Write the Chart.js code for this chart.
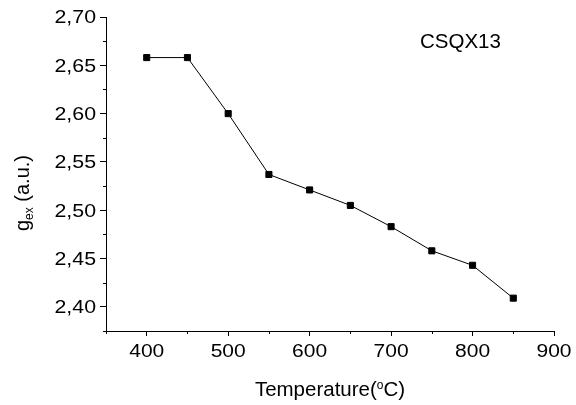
<!DOCTYPE html>
<html>
<head>
<meta charset="utf-8">
<script src="https://cdn.jsdelivr.net/npm/chart.js@4/dist/chart.umd.min.js"></script>
<style>
  html, body { margin: 0; padding: 0; background: #fff; }
  #wrap { width: 576px; height: 405px; }
</style>
</head>
<body>
<div id="wrap"><canvas id="c"></canvas></div>
<script>
const temperatures = [400, 450, 500, 550, 600, 650, 700, 750, 800, 850];
const gexValues = [2.658, 2.658, 2.600, 2.537, 2.521, 2.505, 2.483, 2.458, 2.443, 2.409];
const xTicks = [400, 500, 600, 700, 800, 900];
const yTicks = [2.40, 2.45, 2.50, 2.55, 2.60, 2.65, 2.70];
const xMinorTicks = [350, 450, 550, 650, 750, 850];
const yMinorTicks = [2.375, 2.425, 2.475, 2.525, 2.575, 2.625, 2.675];
const seriesLabel = "CSQX13";

const FONT = "'Liberation Sans', Arial, sans-serif";
const fmtY = (v) => v.toFixed(2).replace(".", ",");

// draws a run of [text, font, dy] pieces starting at x
function drawRun(ctx, parts, x, y) {
  parts.forEach(([t, f, dy]) => {
    ctx.font = f;
    ctx.fillText(t, x, y + dy);
    x += ctx.measureText(t).width;
  });
}
function runWidth(ctx, parts) {
  let w = 0;
  parts.forEach(([t, f]) => { ctx.font = f; w += ctx.measureText(t).width; });
  return w;
}

// minor ticks, tick labels, axis titles with sub/superscript, sample label
const decorations = {
  id: "decorations",
  afterDraw(chart) {
    const { ctx, chartArea, scales } = chart;
    ctx.save();
    ctx.strokeStyle = "#000";
    ctx.lineWidth = 1;
    ctx.beginPath();
    xMinorTicks.forEach((v) => {
      const px = Math.round(scales.x.getPixelForValue(v)) + 0.5;
      ctx.moveTo(px, chartArea.bottom);
      ctx.lineTo(px, chartArea.bottom + 3);
    });
    yMinorTicks.forEach((v) => {
      const py = Math.round(scales.y.getPixelForValue(v)) + 0.5;
      ctx.moveTo(chartArea.left, py);
      ctx.lineTo(chartArea.left - 3, py);
    });
    ctx.stroke();

    ctx.fillStyle = "#000";
    ctx.textBaseline = "alphabetic";
    const tickFont = "17.5px " + FONT;

    // tick labels (the original's digits are wide, so stretch a bit)
    ctx.font = tickFont;
    ctx.textAlign = "center";
    xTicks.forEach((v) => {
      ctx.save();
      ctx.translate(scales.x.getPixelForValue(v), chartArea.bottom + 25.5);
      ctx.scale(1.2, 1);
      ctx.fillText(String(v), 0, 0);
      ctx.restore();
    });
    ctx.textAlign = "right";
    yTicks.forEach((v) => {
      ctx.save();
      ctx.translate(chartArea.left - 10, scales.y.getPixelForValue(v) + 6.3);
      ctx.scale(1.22, 1);
      ctx.fillText(fmtY(v), 0, 0);
      ctx.restore();
    });
    ctx.textAlign = "left";

    // x title: Temperature(°C)
    const big = "20.5px " + FONT;
    const sup = "12px " + FONT;
    const xparts = [["Temperature(", big, 0], ["o", sup, -7], ["C)", big, 0]];
    const xw = runWidth(ctx, xparts);
    drawRun(ctx, xparts, (chartArea.left + chartArea.right) / 2 - xw / 2, 395.5);

    // y title: g_ex (a.u.)
    ctx.save();
    ctx.translate(29, 193);
    ctx.rotate(-Math.PI / 2);
    const ybig = "20px " + FONT;
    const sub = "12px " + FONT;
    const yparts = [["g", ybig, 0], ["ex", sub, 4], [" (a.u.)", ybig, 0]];
    const yw = runWidth(ctx, yparts);
    drawRun(ctx, yparts, -yw / 2, 0);
    ctx.restore();

    ctx.font = "20.5px " + FONT;
    ctx.fillText(seriesLabel, 420, 48);
    ctx.restore();
  },
};

new Chart(document.getElementById("c"), {
  type: "line",
  data: {
    datasets: [{
      label: seriesLabel,
      data: temperatures.map((t, i) => ({ x: t, y: gexValues[i] })),
      borderColor: "#000",
      borderWidth: 1,
      backgroundColor: "#000",
      pointStyle: "rect",
      pointRadius: 4.3,
      pointBorderWidth: 1,
      pointBorderColor: "#000",
      pointBackgroundColor: "#000",
      tension: 0,
    }],
  },
  options: {
    responsive: true,
    maintainAspectRatio: false,
    animation: false,
    devicePixelRatio: 1,
    layout: { padding: { left: 0, top: 17, right: 22, bottom: 0 } },
    plugins: {
      legend: { display: false },
      tooltip: { enabled: false },
    },
    scales: {
      x: {
        type: "linear",
        min: 350,
        max: 900,
        afterBuildTicks: (scale) => { scale.ticks = xTicks.map((v) => ({ value: v })); },
        afterFit: (scale) => { scale.height = 74; },
        grid: { drawOnChartArea: false, drawTicks: true, tickLength: 5, color: "#000" },
        border: { display: true, color: "#000", width: 1 },
        ticks: { display: false },
      },
      y: {
        type: "linear",
        min: 2.375,
        max: 2.70,
        afterBuildTicks: (scale) => { scale.ticks = yTicks.map((v) => ({ value: v })); },
        afterFit: (scale) => { scale.width = 106; },
        grid: { drawOnChartArea: false, drawTicks: true, tickLength: 6, color: "#000" },
        border: { display: true, color: "#000", width: 1 },
        ticks: { display: false },
      },
    },
  },
  plugins: [decorations],
});
</script>
</body>
</html>
